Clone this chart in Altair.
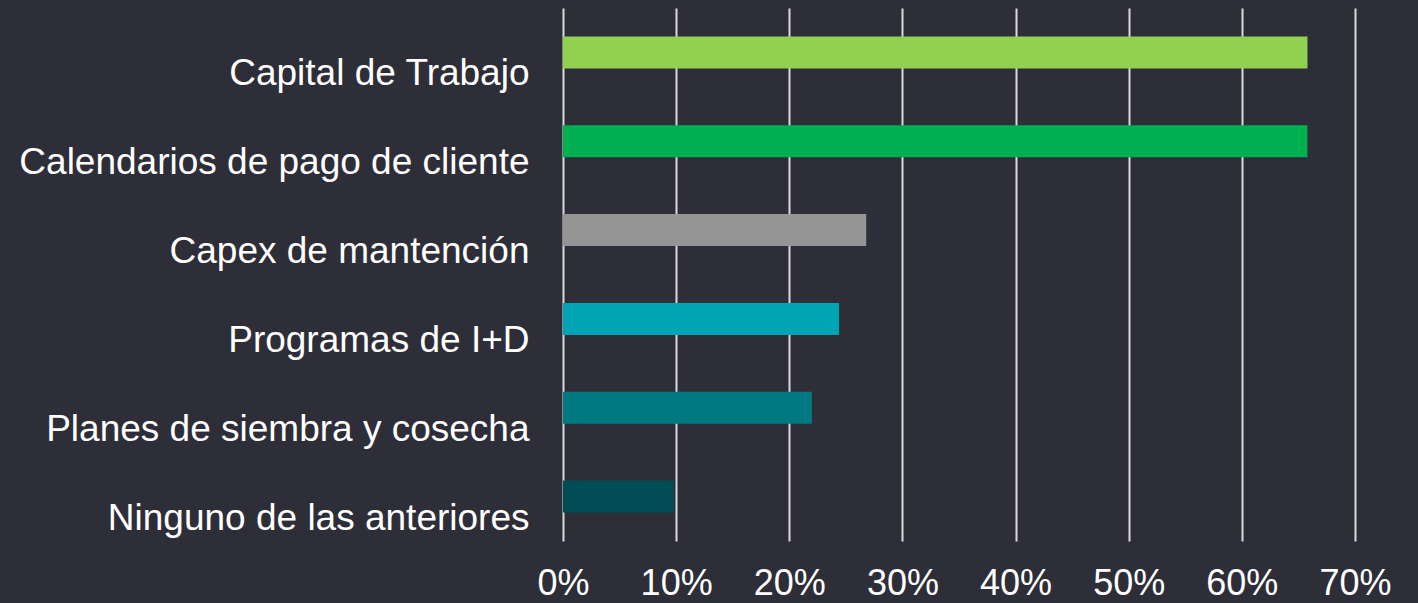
import altair as alt
import pandas as pd

categories = [
    "Capital de Trabajo",
    "Calendarios de pago de cliente",
    "Capex de mantención",
    "Programas de I+D",
    "Planes de siembra y cosecha",
    "Ninguno de las anteriores",
]
values = [0.658, 0.658, 0.268, 0.244, 0.220, 0.098]
colors = ["#92d050", "#00b050", "#959595", "#00a5b3", "#007a80", "#004d55"]
x_ticks = [0, 0.1, 0.2, 0.3, 0.4, 0.5, 0.6, 0.7]

df = pd.DataFrame({"cat": categories, "val": values})

BG = "#2e2e38"
FONT = "Liberation Sans"

chart = (
    alt.Chart(df)
    .mark_bar(size=32)
    .encode(
        x=alt.X(
            "val:Q",
            scale=alt.Scale(domain=[0, 0.7], nice=False, zero=True),
            axis=alt.Axis(
                values=x_ticks,
                format=".0%",
                title=None,
                orient="bottom",
                grid=True,
                gridColor="#d9d9d9",
                gridWidth=2,
                gridOpacity=1,
                domain=False,
                ticks=False,
                labelPadding=53,
                labelBaseline="alphabetic",
                labelFontSize=36,
                labelFont=FONT,
                labelColor="#ffffff",
                labelFlush=False,
            ),
        ),
        y=alt.Y(
            "cat:N",
            sort=categories,
            scale=alt.Scale(paddingInner=0, paddingOuter=0),
            axis=alt.Axis(
                title=None,
                domain=False,
                ticks=False,
                grid=False,
                labelPadding=34,
                labelOffset=33,
                labelBaseline="alphabetic",
                labelFontSize=37,
                labelFont=FONT,
                labelColor="#ffffff",
                labelLimit=0,
            ),
        ),
        color=alt.Color(
            "cat:N",
            scale=alt.Scale(domain=categories, range=colors),
            legend=None,
        ),
    )
    .properties(
        width=792,
        height=533,
        background=BG,
        padding={"left": 563, "top": 8, "right": 63, "bottom": 62},
        autosize=alt.AutoSizeParams(type="none"),
    )
    .configure_view(stroke=None)
)

chart.save(
    "out.html",
    embed_options={
        "renderer": "svg",
        "actions": False,
        "defaultStyle": "body{margin:0;background:#2e2e38;overflow:hidden}",
    },
)
